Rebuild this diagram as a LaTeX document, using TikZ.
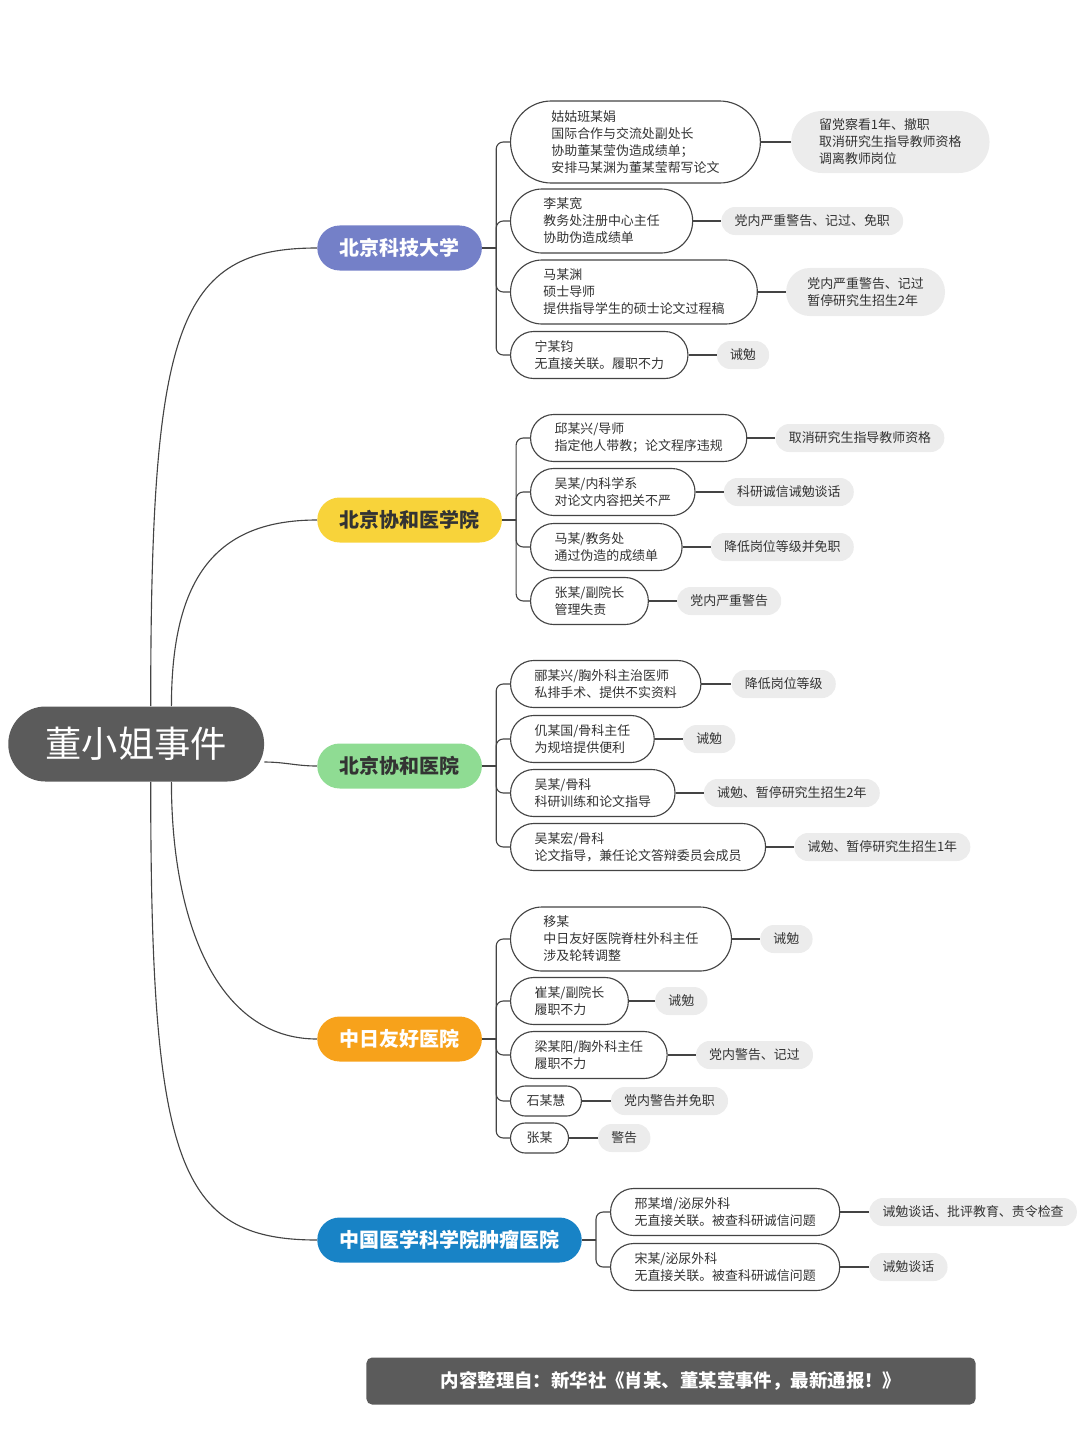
\documentclass[tikz,border=0pt]{standalone}
\usepackage{fontspec}
\setmainfont{Noto Sans CJK SC}
\usepackage{tikz}
\usetikzlibrary{positioning}

\definecolor{rootgray}{HTML}{5B5B5B}
\definecolor{linegray}{HTML}{444444}
\definecolor{txtgray}{HTML}{333333}
\definecolor{pengray}{HTML}{ECECEC}
\definecolor{kdblue}{HTML}{7480C8}
\definecolor{xyyellow}{HTML}{F8D33A}
\definecolor{xhgreen}{HTML}{8FDC93}
\definecolor{zrorange}{HTML}{F7A21B}
\definecolor{zlblue}{HTML}{1883C6}

\begin{document}
\begin{tikzpicture}[
     x=0.025cm, y=-0.025cm,
     every node/.style={font=\fontsize{9.2pt}{12.1pt}\selectfont, text=txtgray},
     root/.style={rectangle, rounded corners=0.93cm, inner xsep=0.93cm, inner ysep=0pt,
       fill=rootgray, text=white, minimum height=1.875cm, font=\fontsize{25.8pt}{30pt}\selectfont},
     cat/.style={rectangle, rounded corners=0.56cm, inner xsep=0.56cm, inner ysep=0pt,
       minimum height=1.125cm, font=\fontsize{14.2pt}{17pt}\selectfont\bfseries},
     who/.style={rectangle, draw=linegray, line width=0.8pt, fill=white,
       align=left, inner ysep=0pt},
     l1/.style={minimum height=0.75cm, rounded corners=0.37cm, inner xsep=0.4cm},
     l2/.style={minimum height=1.175cm, rounded corners=0.58cm, inner xsep=0.6cm},
     l3/.style={minimum height=1.6cm, rounded corners=0.79cm, inner xsep=0.82cm},
     l4/.style={minimum height=2.05cm, rounded corners=1.02cm, inner xsep=1.02cm},
     pen/.style={rectangle, fill=pengray, align=left, inner ysep=0pt},
     k1/.style={minimum height=0.7cm, rounded corners=0.34cm, inner xsep=0.33cm},
     k2/.style={minimum height=1.2cm, rounded corners=0.59cm, inner xsep=0.53cm},
     k3/.style={minimum height=1.55cm, rounded corners=0.77cm, inner xsep=0.7cm},
     branch/.style={draw=linegray, line width=0.8pt},
     banner/.style={rectangle, rounded corners=4pt, fill=rootgray, text=white,
       minimum width=15.225cm, minimum height=1.175cm,
       font=\fontsize{13.1pt}{15pt}\selectfont\bfseries}
   ]
   \path[use as bounding box] (0,0) rectangle (1080,1441);
   % Centre and the five units.
   \node[root, anchor=west] (dong) at (8,744) {董小姐事件};
   \node[cat, anchor=west, fill=kdblue, text=white] (kd) at (317,248) {北京科技大学};
   \node[cat, anchor=west, fill=xyyellow] (xy) at (317,520) {北京协和医学院};
   \node[cat, anchor=west, fill=xhgreen] (xh) at (317,766) {北京协和医院};
   \node[cat, anchor=west, fill=zrorange, text=white] (zr) at (317,1039) {中日友好医院};
   \node[cat, anchor=west, fill=zlblue, text=white] (zl) at (317,1240) {中国医学科学院肿瘤医院};
   \draw[branch] (dong.69) .. controls +(0,-380) and +(-140,0) .. (kd.west);
   \draw[branch] (dong.47) .. controls +(0,-130) and +(-100,0) .. (xy.west);
   \draw[branch] (dong.-8) to[out=0,in=180] (xh.west);
   \draw[branch] (dong.-47) .. controls +(0,140) and +(-100,0) .. (zr.west);
   \draw[branch] (dong.-69) .. controls +(0,380) and +(-140,0) .. (zl.west);
   % 北京科技大学.
   \node[who, l4, anchor=west] (p1) at (510,142) {姑姑班某娟\\国际合作与交流处副处长\\协助董某莹伪造成绩单；\\安排马某渊为董某莹帮写论文};
   \node[pen, k3, right=0.75cm of p1] (r1) {留党察看1年、撤职\\取消研究生指导教师资格\\调离教师岗位};
   \node[who, l3, anchor=west] (p2) at (510,221) {李某宽\\教务处注册中心主任\\协助伪造成绩单};
   \node[pen, k1, right=0.7cm of p2] (r2) {党内严重警告、记过、免职};
   \node[who, l3, anchor=west] (p3) at (510,292) {马某渊\\硕士导师\\提供指导学生的硕士论文过程稿};
   \node[pen, k2, right=0.7cm of p3] (r3) {党内严重警告、记过\\暂停研究生招生2年};
   \node[who, l2, anchor=west] (p4) at (510,355) {宁某钧\\无直接关联。履职不力};
   \node[pen, k1, right=0.7cm of p4] (r4) {诫勉};
   % 北京协和医学院.
   \node[who, l2, anchor=west] (p5) at (530,438) {邱某兴/导师\\指定他人带教；论文程序违规};
   \node[pen, k1, right=0.7cm of p5] (r5) {取消研究生指导教师资格};
   \node[who, l2, anchor=west] (p6) at (530,492) {吴某/内科学系\\对论文内容把关不严};
   \node[pen, k1, right=0.7cm of p6] (r6) {科研诚信诫勉谈话};
   \node[who, l2, anchor=west] (p7) at (530,547) {马某/教务处\\通过伪造的成绩单};
   \node[pen, k1, right=0.7cm of p7] (r7) {降低岗位等级并免职};
   \node[who, l2, anchor=west] (p8) at (530,601) {张某/副院长\\管理失责};
   \node[pen, k1, right=0.7cm of p8] (r8) {党内严重警告};
   % 北京协和医院.
   \node[who, l2, anchor=west] (p9) at (510,684) {郦某兴/胸外科主治医师\\私排手术、提供不实资料};
   \node[pen, k1, right=0.75cm of p9] (r9) {降低岗位等级};
   \node[who, l2, anchor=west] (p10) at (510,739) {仉某国/骨科主任\\为规培提供便利};
   \node[pen, k1, right=0.7cm of p10] (r10) {诫勉};
   \node[who, l2, anchor=west] (p11) at (510,793) {吴某/骨科\\科研训练和论文指导};
   \node[pen, k1, right=0.7cm of p11] (r11) {诫勉、暂停研究生招生2年};
   \node[who, l2, anchor=west] (p12) at (510,847) {吴某宏/骨科\\论文指导，兼任论文答辩委员会成员};
   \node[pen, k1, right=0.7cm of p12] (r12) {诫勉、暂停研究生招生1年};
   % 中日友好医院.
   \node[who, l3, anchor=west] (p13) at (510,939) {移某\\中日友好医院脊柱外科主任\\涉及轮转调整};
   \node[pen, k1, right=0.7cm of p13] (r13) {诫勉};
   \node[who, l2, anchor=west] (p14) at (510,1001) {崔某/副院长\\履职不力};
   \node[pen, k1, right=0.65cm of p14] (r14) {诫勉};
   \node[who, l2, anchor=west] (p15) at (510,1055) {梁某阳/胸外科主任\\履职不力};
   \node[pen, k1, right=0.7cm of p15] (r15) {党内警告、记过};
   \node[who, l1, anchor=west] (p16) at (510,1101) {石某慧};
   \node[pen, k1, right=0.72cm of p16] (r16) {党内警告并免职};
   \node[who, l1, anchor=west] (p17) at (510,1138) {张某};
   \node[pen, k1, right=0.72cm of p17] (r17) {警告};
   % 中国医学科学院肿瘤医院.
   \node[who, l2, anchor=west] (p18) at (610,1212) {邢某增/泌尿外科\\无直接关联。被查科研诚信问题};
   \node[pen, k1, right=0.72cm of p18] (r18) {诫勉谈话、批评教育、责令检查};
   \node[who, l2, anchor=west] (p19) at (610,1267) {宋某/泌尿外科\\无直接关联。被查科研诚信问题};
   \node[pen, k1, right=0.72cm of p19] (r19) {诫勉谈话};
   % Brackets.
   \foreach \c in {kd,xy,xh,zr,zl}
     \draw[branch] (\c.east) -- ++(14,0) coordinate (\c-s);
   \foreach \s/\p in {kd/p1,kd/p2,kd/p3,kd/p4,xy/p5,xy/p6,xy/p7,xy/p8,
       xh/p9,xh/p10,xh/p11,xh/p12,zr/p13,zr/p14,zr/p15,zr/p16,zr/p17,zl/p18,zl/p19}
     \draw[branch, rounded corners=5pt] (\s-s) |- (\p.west);
   \foreach \i in {1,...,19}
     \draw[branch] (p\i.east) -- (r\i.west);
   % Source line.
   \node[banner] (src) at (671,1381) {内容整理自：新华社《肖某、董某莹事件，最新通报！》};
\end{tikzpicture}
\end{document}
